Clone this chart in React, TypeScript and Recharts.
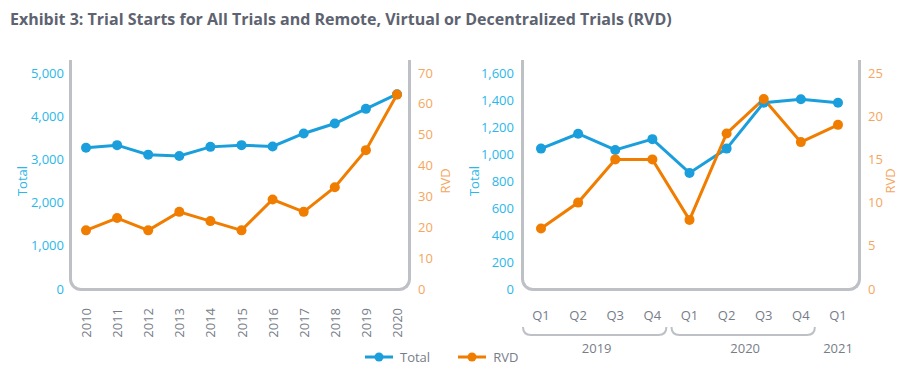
import React from "react";
import { LineChart, Line, XAxis, YAxis } from "recharts";

const years = ["2010", "2011", "2012", "2013", "2014", "2015", "2016", "2017", "2018", "2019", "2020"];
const totalByYear = [3270, 3330, 3110, 3080, 3290, 3330, 3300, 3600, 3830, 4170, 4510];
const rvdByYear = [19, 23, 19, 25, 22, 19, 29, 25, 33, 45, 63];

const quarterLabels = ["Q1", "Q2", "Q3", "Q4", "Q1", "Q2", "Q3", "Q4", "Q1"];
const quarterYears = ["2019", "2019", "2019", "2019", "2020", "2020", "2020", "2020", "2021"];
const totalByQuarter = [1040, 1150, 1030, 1110, 860, 1040, 1380, 1405, 1380];
const rvdByQuarter = [7, 10, 15, 15, 8, 18, 22, 17, 19];

const yearTicksTotal = [0, 1000, 2000, 3000, 4000, 5000];
const yearTicksRvd = [0, 10, 20, 30, 40, 50, 60, 70];
const quarterTicksTotal = [0, 200, 400, 600, 800, 1000, 1200, 1400, 1600];
const quarterTicksRvd = [0, 5, 10, 15, 20, 25];

const BLUE = "#1a9fdc";
const ORANGE = "#f07d00";
const BLUE_TEXT = "#2bb7ea";
const ORANGE_TEXT = "#f6a65e";
const GRAY_TEXT = "#777d88";
const FRAME = "#bdc1c6";
const FONT = '"Open Sans", sans-serif';

const yearData = years.map((y, i) => ({ year: y, total: totalByYear[i], rvd: rvdByYear[i] }));
const quarterData = quarterLabels.map((q, i) => ({
  key: `${quarterYears[i]} ${q}`,
  total: totalByQuarter[i],
  rvd: rvdByQuarter[i],
}));

// right chart: plot 337px wide, padding 19 / 21
const Q_STEP = (337 - 19 - 21) / (quarterLabels.length - 1);

const YearTick = ({ x, y, payload }: any) => (
  <text
    transform={`translate(${x},${y + 11}) rotate(-90)`}
    textAnchor="end"
    dominantBaseline="central"
    fill={GRAY_TEXT}
    fontSize={13}
    fontFamily={FONT}
  >
    {payload.value}
  </text>
);

const QuarterTick = ({ x, y, payload }: any) => {
  const i = payload.index;
  const yr = quarterYears[i];
  const first = quarterYears.indexOf(yr);
  const last = quarterYears.lastIndexOf(yr);
  const n = last - first + 1;
  const by = y + 38;
  let bracket = null;
  let yearLabel = null;
  if (i === first) {
    const cx = x + ((n - 1) * Q_STEP) / 2;
    yearLabel = (
      <text x={cx} y={y + 51} textAnchor="middle" dominantBaseline="central" fill={GRAY_TEXT} fontSize={13} fontFamily={FONT}>
        {yr}
      </text>
    );
    if (n > 1) {
      const x0 = x - 18;
      const x1 = x + (n - 1) * Q_STEP + 14;
      bracket = (
        <path
          d={`M${x0},${by - 8} Q${x0},${by} ${x0 + 8},${by} L${x1 - 8},${by} Q${x1},${by} ${x1},${by - 8}`}
          fill="none"
          stroke={FRAME}
          strokeWidth={2}
        />
      );
    }
  }
  return (
    <g>
      <text x={x} y={y + 18} textAnchor="middle" dominantBaseline="central" fill={GRAY_TEXT} fontSize={13} fontFamily={FONT}>
        {quarterLabels[i]}
      </text>
      {bracket}
      {yearLabel}
    </g>
  );
};

const sideLabel = (text: string, color: string, dx: number) => ({ viewBox }: any) => {
  const cx = viewBox.x + dx;
  const cy = viewBox.y + viewBox.height / 2;
  return (
    <text
      transform={`translate(${cx},${cy}) rotate(-90)`}
      textAnchor="middle"
      dominantBaseline="central"
      fill={color}
      fontSize={13}
      fontFamily={FONT}
    >
      {text}
    </text>
  );
};

const Frame = ({ left, right }: { left: number; right: number }) => (
  <div
    style={{
      position: "absolute",
      left: left - 1.5,
      top: 60,
      width: right - left + 3,
      height: 230.5,
      boxSizing: "border-box",
      borderLeft: `3px solid ${FRAME}`,
      borderRight: `3px solid ${FRAME}`,
      borderBottom: `3px solid ${FRAME}`,
      borderBottomLeftRadius: 12,
      borderBottomRightRadius: 12,
    }}
  />
);

const LegendItem = ({ color, label }: { color: string; label: string }) => (
  <div style={{ display: "flex", alignItems: "center", marginRight: 28 }}>
    <svg width={28} height={12}>
      <line x1={0} y1={6} x2={28} y2={6} stroke={color} strokeWidth={3} />
      <circle cx={14} cy={6} r={4.5} fill={color} />
    </svg>
    <span style={{ marginLeft: 7, fontSize: 13, color: GRAY_TEXT }}>{label}</span>
  </div>
);

export default function App() {
  return (
    <div style={{ position: "absolute", left: 0, top: 0, width: 912, height: 379, background: "#fff", fontFamily: FONT }}>
      <div style={{ position: "absolute", left: 10, top: 8, fontSize: 16, fontWeight: 700, color: "#5d6370", whiteSpace: "nowrap" }}>
        Exhibit 3: Trial Starts for All Trials and Remote, Virtual or Decentralized Trials (RVD)
      </div>

      <Frame left={70} right={409} />
      <Frame left={522} right={859} />

      <div style={{ position: "absolute", left: 0, top: 0 }}>
        <LineChart width={460} height={379} data={yearData} margin={{ top: 73, right: 0, bottom: 45, left: 0 }}>
          <XAxis dataKey="year" interval={0} axisLine={false} tickLine={false} tick={<YearTick />} height={45} padding={{ left: 16, right: 12 }} />
          <YAxis
            yAxisId="total"
            width={70}
            domain={[0, 5000]}
            ticks={yearTicksTotal}
            axisLine={false}
            tickLine={false}
            tickSize={0}
            tickMargin={6}
            tick={{ fill: BLUE_TEXT, fontSize: 13, fontFamily: FONT }}
            tickFormatter={(v: number) => v.toLocaleString("en-US")}
            label={{ content: sideLabel("Total", BLUE_TEXT, 22) }}
          />
          <YAxis
            yAxisId="rvd"
            orientation="right"
            width={51}
            domain={[0, 70]}
            ticks={yearTicksRvd}
            axisLine={false}
            tickLine={false}
            tickSize={0}
            tickMargin={9}
            tick={{ fill: ORANGE_TEXT, fontSize: 13, fontFamily: FONT, textAnchor: "start" }}
            label={{ content: sideLabel("RVD", ORANGE_TEXT, 36) }}
          />
          <Line yAxisId="total" dataKey="total" stroke={BLUE} strokeWidth={3} dot={{ r: 5, fill: BLUE, stroke: BLUE, strokeWidth: 0 }} isAnimationActive={false} />
          <Line yAxisId="rvd" dataKey="rvd" stroke={ORANGE} strokeWidth={3} dot={{ r: 5, fill: ORANGE, stroke: ORANGE, strokeWidth: 0 }} isAnimationActive={false} />
        </LineChart>
      </div>

      <div style={{ position: "absolute", left: 460, top: 0 }}>
        <LineChart width={452} height={379} data={quarterData} margin={{ top: 73, right: 0, bottom: 45, left: 0 }}>
          <XAxis dataKey="key" interval={0} axisLine={false} tickLine={false} tick={<QuarterTick />} height={45} padding={{ left: 19, right: 21 }} />
          <YAxis
            yAxisId="total"
            width={62}
            domain={[0, 1600]}
            ticks={quarterTicksTotal}
            axisLine={false}
            tickLine={false}
            tickSize={0}
            tickMargin={8}
            tick={{ fill: BLUE_TEXT, fontSize: 13, fontFamily: FONT }}
            tickFormatter={(v: number) => v.toLocaleString("en-US")}
            label={{ content: sideLabel("Total", BLUE_TEXT, 14) }}
          />
          <YAxis
            yAxisId="rvd"
            orientation="right"
            width={53}
            domain={[0, 25]}
            ticks={quarterTicksRvd}
            axisLine={false}
            tickLine={false}
            tickSize={0}
            tickMargin={9}
            tick={{ fill: ORANGE_TEXT, fontSize: 13, fontFamily: FONT, textAnchor: "start" }}
            label={{ content: sideLabel("RVD", ORANGE_TEXT, 31) }}
          />
          <Line yAxisId="total" dataKey="total" stroke={BLUE} strokeWidth={3} dot={{ r: 5, fill: BLUE, stroke: BLUE, strokeWidth: 0 }} isAnimationActive={false} />
          <Line yAxisId="rvd" dataKey="rvd" stroke={ORANGE} strokeWidth={3} dot={{ r: 5, fill: ORANGE, stroke: ORANGE, strokeWidth: 0 }} isAnimationActive={false} />
        </LineChart>
      </div>

      <div style={{ position: "absolute", left: 365, top: 348, display: "flex" }}>
        <LegendItem color={BLUE} label="Total" />
        <LegendItem color={ORANGE} label="RVD" />
      </div>
    </div>
  );
}
